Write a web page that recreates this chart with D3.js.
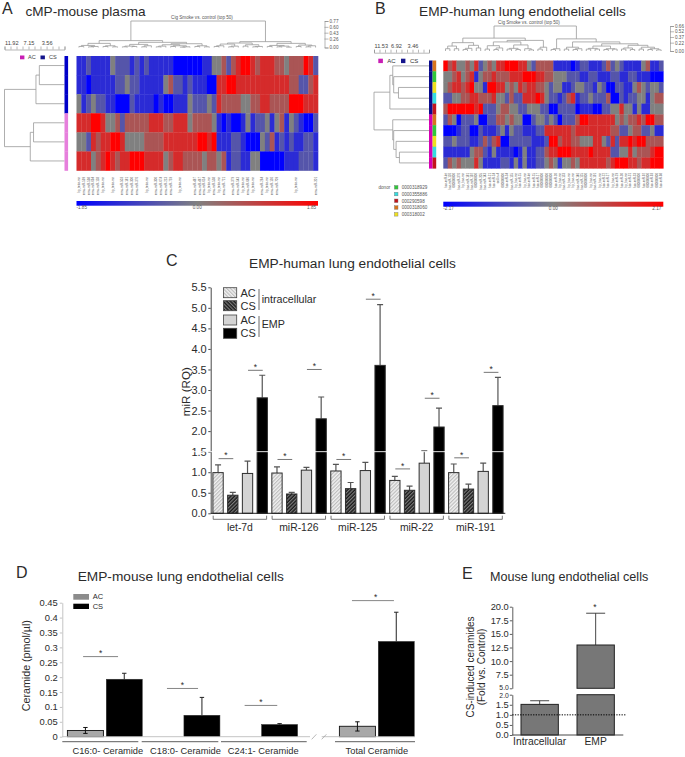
<!DOCTYPE html>
<html>
<head>
<meta charset="utf-8">
<script src="https://cdn.jsdelivr.net/npm/d3@7"></script>
<style>
  body { margin: 0; background: #fff; }
  svg { display: block; font-family: "Liberation Sans", Arial, sans-serif; }
  .soft { filter: blur(0.5px); }
</style>
</head>
<body>
<svg id="fig" width="685" height="757"></svg>
<script>
// ---- panel A heatmap, levels -3 (full blue) .. 3 (full red)
const heatRowsA = [
  [-2,-2,-1,-2,-2,-2,-2,0,-1,-1,-1,-2,-1,-2,-1,-2,-2,-2,-2,-2,-3,-3,-3,-3,-3,-3,-2,-2,0,0,1,-1,1,2,3,3,2,1,2,2,2,1,1,0,1,1,1,3,2,-1],
  [-2,-2,-3,-2,-2,-2,-2,-2,-1,-1,0,-1,-1,-2,-2,-2,-2,-2,0,1,-1,-1,-2,-1,-2,-2,-2,-3,-3,2,2,3,3,2,2,2,2,2,2,2,2,2,2,2,1,1,-1,-1,1,2],
  [0,-2,-1,0,-1,-1,-2,-2,-3,-3,-3,-1,-2,-2,-2,-2,-3,-2,-3,-3,-2,-2,-2,0,-1,-1,-1,0,-1,2,1,1,1,1,0,0,1,1,2,2,1,1,1,1,3,3,3,2,2,2],
  [2,2,2,3,3,2,0,0,1,-1,1,1,1,1,1,2,2,2,1,1,2,2,2,0,1,1,1,1,0,-2,-3,-2,-3,-3,-2,0,-2,-1,-1,0,-2,0,1,-2,0,-1,-2,-3,-3,-1],
  [0,0,-1,2,1,2,2,3,3,2,0,0,0,0,1,1,1,1,2,2,2,2,2,2,2,3,3,2,3,-2,-2,-2,-1,-1,-2,-3,-3,-3,0,-1,1,-2,-1,-2,-1,-2,-2,-1,-1,-2],
  [2,2,2,0,1,2,3,2,1,2,2,3,3,3,2,2,2,2,0,1,2,2,1,1,1,1,0,1,1,0,1,-2,-1,-1,-2,-2,0,0,-3,-3,-3,-3,-3,-2,-2,-2,-1,-1,-1,-2]
];
// ---- panel B heatmap
const heatRowsB = [
  [3,1,2,0,0,1,0,2,-1,0,1,0,2,2,3,3,3,2,2,0,-1,1,1,1,1,-2,-2,-2,-2,-3,-2,-1,-1,-2,-2,-2,-1,1,-1,0,-1,-2,-2,-2,-2,0,1,-2,-2,-1],
  [0,0,1,2,0,1,2,-2,0,1,1,2,1,1,1,2,2,2,3,3,3,2,2,1,1,0,0,0,-1,-1,-1,-2,-2,-1,-1,-2,-2,-2,-1,-1,-2,-2,-1,-1,-2,-2,-2,-3,-3,-3],
  [0,1,2,2,1,2,3,0,0,-2,3,3,2,2,0,1,0,2,1,2,2,1,1,0,-1,0,0,-2,-2,-1,0,0,-1,-1,-2,0,-1,-3,-3,-1,-1,-2,-2,0,1,0,-1,0,0,-1],
  [-1,-1,0,0,1,1,2,2,1,1,1,2,0,0,-1,1,-1,-1,2,2,2,3,2,0,-1,-1,-2,-1,1,2,-2,-1,-1,0,-1,-1,-1,1,-3,-3,-1,-2,-1,-1,0,0,-2,0,1,1],
  [1,3,3,3,3,3,3,2,3,-1,-1,-1,0,1,1,0,0,-1,-1,0,0,0,-1,-1,-3,-3,-1,-1,-1,-1,-3,-2,-2,-2,-3,-3,-1,-1,0,0,2,0,0,-2,0,-2,-2,0,0,0],
  [-1,1,0,-3,-1,-1,-1,0,-3,-3,-1,-1,1,1,0,1,0,0,-3,-3,-1,0,0,-1,0,-1,-3,-1,-1,-1,1,3,3,2,2,2,2,2,2,0,1,0,1,1,2,1,3,3,1,1],
  [-3,-3,-3,-2,-1,-1,-3,-3,-1,-2,-2,-2,-1,0,-2,0,-1,-1,-2,-2,-2,-1,-1,2,2,2,2,2,2,1,2,2,2,2,2,2,2,2,1,1,-1,-1,0,1,1,-1,-1,0,-2,-2],
  [-1,-1,0,-1,-1,-1,-2,-2,-1,1,-1,1,2,-3,-3,-1,-1,-1,-1,-1,-2,-2,-2,-1,3,3,1,2,2,1,1,0,0,0,2,2,0,-1,2,-1,2,2,3,2,3,3,1,1,1,1],
  [-2,-2,-2,-2,-2,-2,0,1,1,-1,-2,0,-2,-2,-2,-2,-3,-2,0,-2,-2,-1,-1,1,2,2,3,3,3,2,2,2,2,3,2,2,2,2,-1,-1,0,0,2,0,1,1,1,2,3,3],
  [-1,1,0,1,0,0,0,2,0,-2,-2,-2,-2,-1,-1,-2,0,-2,0,-2,-2,-1,-1,0,1,0,-2,0,0,1,0,2,2,2,2,2,2,1,2,3,3,3,2,2,1,2,2,3,3,3]
];
const heatLevels = [-3, 0, 3];
const heatColors = ["#0000ff", "#808080", "#ff0000"];

// dendrograms: [height, child, child], 0 is a leaf
const topTreeA = [0.77,
  [0.2,
    [0.12, [0.06, [0.03,0,0], [0.03,[0.02,0,0],0]], [0.05, [0.03,0,0], [0.02,0,0]]],
    [0.15,
      [0.09, [0.04,[0.02,0,0],[0.03,0,0]], [0.05,[0.02,0,0],0]],
      [0.11,
        [0.08, [0.04,[0.02,0,0],0], [0.05,[0.03,0,0],[0.02,[0.01,0,0],0]]],
        [0.05, [0.03,0,0], [0.02,0,0]]]]],
  [0.17,
    [0.13,
      [0.1, [0.05,[0.03,0,0],0], [0.04,[0.02,0,0],0]],
      [0.08, [0.04,0,0], [0.03,[0.02,0,0],0]]],
    [0.12,
      [0.06, [0.03,0,0], [0.04,[0.02,0,0],[0.01,0,0]]],
      [0.07, [0.03,0,0], [0.05,[0.02,0,0],0]]]]];
const topTreeB = [0.66,
  [0.34,
    [0.22, [0.13,[0.06,0,0],[0.06,0,0]], [0.15,[0.07,[0.04,0,0],0],[0.08,0,0]]],
    [0.28,
      [0.24, [0.14,[0.05,0,0],[0.08,[0.04,0,0],0]], [0.16,[0.07,[0.05,0,0],[0.04,0,0]],[0.06,0,[0.03,0,0]]]],
      [0.1, [0.05,0,0], 0]]],
  [0.32,
    [0.06, [0.04,0,0], 0],
    [0.24,
      [0.1, [0.05,0,0], [0.06,[0.04,0,0],0]],
      [0.19,
        [0.13, [0.07,[0.05,0,0],[0.05,0,0]], [0.06,[0.04,0,0],[0.05,0,0]]],
        [0.15, [0.08,[0.05,0,0],[0.04,0,0]], [0.1,[0.05,0,0],[0.06,[0.04,0,0],[0.03,0,0]]]]]]]];
const leftTreeA = [11.92, [5.67, [5.0,0,0], 0], [6.8, [6.15,0,0], 0]];
const leftTreeB = [11.53,
  [8.2, [7.6, 0, [7.4, 0, [6.4,0,0]]], 0],
  [7.6, 0, [7.4, 0, [6.9, 0, [6.2,0,0]]]]];

const treeTicksA = [0, 1.19, 2.38, 3.56, 4.77, 5.96, 7.15, 8.34, 9.53, 10.73, 11.92];
const treeLabelsA = [3.56, 7.15, 11.92];
const treeTicksB = [0, 1.15, 2.31, 3.46, 4.61, 5.77, 6.92, 8.07, 9.22, 10.38, 11.53];
const treeLabelsB = [3.46, 6.92, 11.53];
const scaleTicksA = [0, 0.26, 0.43, 0.6, 0.77];
const scaleTicksB = [0, 0.22, 0.37, 0.52, 0.66];

const geneColsA = [0,1,2,3,4,5,7,9,10,11,12,14,16,17,18,19,21,24,25,26,27,28,29,30,32,33,34,35,36,38,39,40,41,45,49];
const geneNamesA = ["hp_tetra-mir","mmu-miR-599","mmu-miR-598","mmu-miR-694","mmu-miR-128","hp_tetra-mir","hp_tetra-mir","mmu-miR-503","mmu-miR-181","mmu-miR-300","mmu-miR-376","hp_tetra-mir","mmu-miR-300","mmu-miR-674","mmu-miR-213","mmu-miR-759","hp_tetra-mir","mmu-miR-487","mmu-miR-467","mmu-miR-614","hp_tetra-mir","mmu-miR-538","hp_tetra-mir","mmu-miR-721","mmu-miR-379","mmu-miR-543","hp_tetra-mir","mmu-miR-686","hp_tetra-mir","mmu-miR-264","hp_tetra-mir","mmu-miR-136","mmu-miR-709","hp_tetra-mir","mmu-miR-201"];
const geneNamesB = ["hsa-miR-let","hsa-miR-126","000000000","hsa-miR-376","hp_hsa-mir","hsa-miR-181","hsa-miR-192","000000000","hsa-miR-205","hsa-miR-143","hsa-miR-21","hsa-miR-24","cel-lin-4","000000000","hsa-miR-34","hsa-miR-155","hp_hsa-mir","hsa-miR-15","hp_hsa-mir","hsa-miR-let","hsa-miR-15","hsa-miR-17","000000000","000000000","000000000","hsa-miR-20","hp_hsa-mir","hsa-miR-133","hp_hsa-mir","hp_hsa-mir","hsa-miR-146","hsa-miR-125","000000000","hp_hsa-mir","hsa-miR-191","hp_hsa-mir","hsa-miR-22","hsa-miR-27","hp_hsa-mir","hsa-miR-29","hsa-miR-30","hp_hsa-mir","hsa-miR-31","hsa-miR-33","000000000","hsa-miR-92","000000000","hsa-miR-93","000000000","hsa-miR-98"];

const donorIds = ["0000318929", "0000355886", "000290598", "0000318060", "000318002"];
const donorColors = ["#2fc83a", "#35dde0", "#c2141c", "#d8741c", "#efe01e"];
const donorRowsB = [3, 0, 4, 1, 2, 3, 0, 4, 1, 2];

// ---- panel C
const mirNames = ["let-7d", "miR-126", "miR-125", "miR-22", "miR-191"];
const seriesC = ["intraAC", "intraCS", "empAC", "empCS"];
const intraAC = [0.99, 0.98, 1.03, 0.80, 0.99];
const intraCS = [0.44, 0.47, 0.60, 0.56, 0.59];
const empAC = [0.97, 1.05, 1.04, 1.22, 1.02];
const empCS = [2.81, 2.30, 3.60, 2.10, 2.62];
const intraACTop = [1.18, 1.13, 1.19, 0.90, 1.20];
const intraCSTop = [0.51, 0.51, 0.75, 0.66, 0.71];
const empACTop = [1.27, 1.12, 1.24, 1.52, 1.22];
const empCSTop = [3.36, 2.83, 5.08, 2.56, 3.31];
const sigIntraC = [1.33, 1.31, 1.31, 1.08, 1.35];
const sigEmpC = [3.48, 3.50, 5.21, 2.80, 3.43];
const ticksC = [0, 0.5, 1, 1.5, 2, 2.5, 3, 3.5, 4, 4.5, 5, 5.5];

// ---- panel D
const ceramideCats = ["C16:0- Ceramide", "C18:0- Ceramide", "C24:1- Ceramide"];
const ceramideTotal = ["Total Ceramide"];
const acD = [0.021, null, null];
const csD = [0.193, 0.072, 0.041];
const acDHigh = [0.031, null, null];
const acDLow = [0.011, null, null];
const csDTop = [0.213, 0.132, 0.044];
const sigD = [0.269, 0.162, 0.105];
const acTotal = [0.035], acTotalHigh = [0.05], acTotalLow = [0.019];
const csTotal = [0.32], csTotalTop = [0.418], sigTotal = [0.457];
const ticksD = [0, 0.05, 0.1, 0.15, 0.2, 0.25, 0.3, 0.35, 0.4, 0.45];

// ---- panel E
const foldCats = ["Intracellular", "EMP"];
const foldValues = [1.52, 12.96];
const foldTops = [1.7, 18.8];
const ticksELow = [0, 0.5, 1, 1.5, 2];
const ticksEHigh = [5, 7.5, 10, 12.5, 15, 17.5, 20];

const svg = d3.select("#fig");
const defs = svg.append("defs");
const TXT = "#2b2b2b";

function hatch(id, bg, fg, angle) {
  const p = defs.append("pattern").attr("id", id)
    .attr("patternUnits", "userSpaceOnUse").attr("width", 2.6).attr("height", 2.6)
    .attr("patternTransform", "rotate(" + angle + ")");
  p.append("rect").attr("width", 2.6).attr("height", 2.6).attr("fill", bg);
  p.append("rect").attr("width", 1.2).attr("height", 2.6).attr("fill", fg);
}
hatch("acBar", "#f2f2f2", "#bdbdbd", 45);
hatch("csBar", "#1a1a1a", "#7a7a7a", 45);
hatch("acLeg", "#f2f2f2", "#bdbdbd", -45);
hatch("csLeg", "#1a1a1a", "#7a7a7a", -45);

function label(x, y, s, size, opts) {
  opts = opts || {};
  return svg.append("text").attr("x", x).attr("y", y).text(s)
    .attr("font-size", size).attr("fill", opts.fill || TXT)
    .attr("text-anchor", opts.anchor || "start");
}

// walks a nested tree and draws the elbows, returns leaf position and height
function drawTree(g, node, st, pos, hgt, horizontal) {
  if (node === 0) {
    st.leaf += 1;
    return { p: pos(st.leaf - 1), h: 0 };
  }
  const a = drawTree(g, node[1], st, pos, hgt, horizontal);
  const b = drawTree(g, node[2], st, pos, hgt, horizontal);
  const d = horizontal
    ? "M" + hgt(a.h) + "," + a.p + "H" + hgt(node[0]) + "V" + b.p + "H" + hgt(b.h)
    : "M" + a.p + "," + hgt(a.h) + "V" + hgt(node[0]) + "H" + b.p + "V" + hgt(b.h);
  g.append("path").attr("d", d).attr("fill", "none").attr("stroke", "#9a9a9a").attr("stroke-width", 0.8);
  return { p: (a.p + b.p) / 2, h: node[0] };
}

function heatPanel(c) {
  const color = d3.scaleLinear().domain(heatLevels).range(heatColors);
  const cols = d3.scaleBand().domain(d3.range(c.rows[0].length)).range(c.xRange);
  const rows = d3.scaleBand().domain(d3.range(c.rows.length)).range(c.yRange);

  const heat = svg.append("g").attr("class", "soft");
  c.rows.forEach((row, i) => {
    heat.selectAll(null).data(row).enter().append("rect")
      .attr("x", (d, j) => cols(j)).attr("y", rows(i))
      .attr("width", cols.bandwidth() + 0.3).attr("height", rows.bandwidth() + 0.3)
      .attr("fill", d => color(d));
  });

  // top dendrogram and its height axis
  const hTop = d3.scaleLinear().domain([0, c.topMax]).range(c.topY);
  const g1 = svg.append("g");
  drawTree(g1, c.topTree, { leaf: 0 }, j => cols(j) + cols.bandwidth() / 2, hTop, false);
  const ax = svg.append("g").attr("transform", "translate(" + c.scaleX + ",0)")
    .call(d3.axisRight(hTop).tickValues(c.scaleTicks).tickSize(4).tickPadding(1).tickFormat(d3.format(".2f")));
  ax.selectAll("path,line").attr("stroke", "#888").attr("stroke-width", 0.6);
  ax.selectAll("text").attr("font-size", 4.6).attr("font-family", "inherit").attr("fill", "#555");

  // left dendrogram and its axis
  const hLeft = d3.scaleLinear().domain([0, c.leftMax]).range(c.leftX);
  const g2 = svg.append("g");
  drawTree(g2, c.leftTree, { leaf: 0 }, i => rows(i) + rows.bandwidth() / 2, hLeft, true);
  const al = svg.append("g").attr("transform", "translate(0," + c.leftAxisY + ")")
    .call(d3.axisTop(hLeft).tickValues(c.treeTicks).tickSize(3).tickPadding(1.5)
      .tickFormat(d => c.treeLabels.includes(d) ? d : ""));
  al.selectAll("path,line").attr("stroke", "#888").attr("stroke-width", 0.6);
  al.selectAll("text").attr("font-size", 5.6).attr("font-family", "inherit").attr("fill", "#444")
    .attr("text-anchor", d => d === c.leftMax ? "start" : "middle");

  svg.append("text").attr("x", c.capX).attr("y", c.capY).text("Cig Smoke vs. control (top 50)")
    .attr("font-size", 4.6).attr("fill", "#555").attr("text-anchor", "middle");

  // gene labels under the columns
  const genes = svg.append("g");
  c.geneCols.forEach((col, k) => {
    const gx = cols(col) + cols.bandwidth() / 2 + 1;
    genes.append("text").attr("transform", "translate(" + gx + "," + c.geneY + ") rotate(-90)")
      .attr("text-anchor", "end").attr("font-size", 2.9).attr("fill", "#555").text(c.geneNames[k]);
  });

  // colour bar
  const gid = "bar" + c.id;
  const lg = defs.append("linearGradient").attr("id", gid);
  heatLevels.forEach((l, i) => lg.append("stop").attr("offset", (i * 50) + "%").attr("stop-color", heatColors[i]));
  svg.append("rect").attr("x", c.xRange[0]).attr("y", c.barY)
    .attr("width", c.xRange[1] - c.xRange[0]).attr("height", c.barH).attr("fill", "url(#" + gid + ")");
  label(c.xRange[0], c.barY + c.barH + 3.6, "-" + c.barMax, 4.6, { fill: "#555" });
  label((c.xRange[0] + c.xRange[1]) / 2, c.barY + c.barH + 3.6, "0.00", 4.6, { fill: "#555", anchor: "middle" });
  label(c.xRange[1] - 2, c.barY + c.barH + 3.6, c.barMax, 4.6, { fill: "#555", anchor: "end" });

  return rows;
}

// ---------- panel A
const rowsA = heatPanel({
  id: "A", rows: heatRowsA, xRange: [76.5, 318], yRange: [56, 170.5],
  topTree: topTreeA, topMax: 0.77, topY: [47.5, 21], scaleX: 324.5, scaleTicks: scaleTicksA,
  leftTree: leftTreeA, leftMax: 11.92, leftX: [64.5, 4.5], leftAxisY: 49.5,
  treeTicks: treeTicksA, treeLabels: treeLabelsA, capX: 202, capY: 18.5,
  geneCols: geneColsA, geneNames: geneNamesA, geneY: 177,
  barY: 201, barH: 4.7, barMax: "1.85"
});
svg.append("g").selectAll("rect").data(heatRowsA).enter().append("rect")
  .attr("x", 64.5).attr("y", (d, i) => rowsA(i)).attr("width", 3.6).attr("height", rowsA.bandwidth() + 0.3)
  .attr("fill", (d, i) => i < 3 ? "#0000c8" : "#e67fdc");

svg.append("rect").attr("x", 20).attr("y", 55.5).attr("width", 4.4).attr("height", 3.8).attr("fill", "#c81eb4");
label(28, 59, "AC", 5.6, { fill: "#444" });
svg.append("rect").attr("x", 40.5).attr("y", 55.5).attr("width", 4.4).attr("height", 3.8).attr("fill", "#14148c");
label(49, 59, "CS", 5.6, { fill: "#444" });
label(2, 14, "A", 16);
label(25.5, 15.5, "cMP-mouse plasma", 13.6);

// ---------- panel B
const rowsB = heatPanel({
  id: "B", rows: heatRowsB, xRange: [443.3, 663.3], yRange: [60.5, 168.3],
  topTree: topTreeB, topMax: 0.66, topY: [51, 26], scaleX: 670, scaleTicks: scaleTicksB,
  leftTree: leftTreeB, leftMax: 11.53, leftX: [429, 374], leftAxisY: 52.7,
  treeTicks: treeTicksB, treeLabels: treeLabelsB, capX: 529, capY: 24,
  geneCols: d3.range(50), geneNames: geneNamesB, geneY: 173,
  barY: 201.7, barH: 5, barMax: "2.17"
});
const sideB = svg.append("g");
donorRowsB.forEach((dn, i) => {
  sideB.append("rect").attr("x", 429).attr("y", rowsB(i)).attr("width", 3.6).attr("height", rowsB.bandwidth() + 0.3)
    .attr("fill", i < 5 ? "#0a0a8c" : "#d400b4");
  sideB.append("rect").attr("x", 432.6).attr("y", rowsB(i)).attr("width", 3.6).attr("height", rowsB.bandwidth() + 0.3)
    .attr("fill", donorColors[dn]);
});
svg.append("rect").attr("x", 378.3).attr("y", 58.7).attr("width", 4.6).attr("height", 4.4).attr("fill", "#c81eb4");
label(387.3, 63.2, "AC", 6, { fill: "#333" });
svg.append("rect").attr("x", 401).attr("y", 58.7).attr("width", 4.4).attr("height", 4.4).attr("fill", "#14148c");
label(410, 63.2, "CS", 6, { fill: "#333" });

label(378.5, 189, "donor", 4.6, { fill: "#555" });
const donorY = d3.scalePoint().domain(donorIds).range([187.3, 214.3]);
donorIds.forEach((id, i) => {
  svg.append("rect").attr("x", 394.4).attr("y", donorY(id) - 1.8).attr("width", 3.6).attr("height", 3.6)
    .attr("fill", donorColors[i]).attr("stroke", "#777").attr("stroke-width", 0.4);
  label(401.7, donorY(id) + 1.7, id, 4.6, { fill: "#555" });
});
label(375, 14, "B", 16);
label(419, 15.5, "EMP-human lung endothelial cells", 13.7);

// ---------- panel C
const yC = d3.scaleLinear().domain([0, 5.5]).range([513.3, 287.3]);
const x0C = d3.scaleBand().domain(mirNames).range([210.7, 505.3]);
const x1C = d3.scaleBand().domain(seriesC).range([0, x0C.bandwidth()]).paddingInner(0.3).paddingOuter(0.15);
const fillC = { intraAC: "url(#acBar)", intraCS: "url(#csBar)", empAC: "#d4d4d4", empCS: "#000" };
const valuesC = { intraAC: intraAC, intraCS: intraCS, empAC: empAC, empCS: empCS };
const topsC = { intraAC: intraACTop, intraCS: intraCSTop, empAC: empACTop, empCS: empCSTop };

label(166, 266, "C", 16);
label(249, 268, "EMP-human lung endothelial cells", 13.7);

const chartC = svg.append("g");
seriesC.forEach(s => {
  const mid = m => x0C(m) + x1C(s) + x1C.bandwidth() / 2;
  chartC.selectAll(null).data(mirNames).enter().append("path")
    .attr("d", (m, i) => "M" + mid(m) + "," + yC(valuesC[s][i]) + "V" + yC(topsC[s][i])
      + "M" + (mid(m) - 3) + "," + yC(topsC[s][i]) + "H" + (mid(m) + 3))
    .attr("fill", "none").attr("stroke", "#555").attr("stroke-width", 1.2);
  chartC.selectAll(null).data(mirNames).enter().append("rect")
    .attr("x", m => x0C(m) + x1C(s)).attr("width", x1C.bandwidth())
    .attr("y", (m, i) => yC(valuesC[s][i])).attr("height", (m, i) => yC(0) - yC(valuesC[s][i]))
    .attr("fill", fillC[s]).attr("stroke", "#2e2e2e").attr("stroke-width", 1);
});

mirNames.forEach((m, i) => {
  const cx = s => x0C(m) + x1C(s) + x1C.bandwidth() / 2;
  [["intraAC", "intraCS", sigIntraC[i]], ["empAC", "empCS", sigEmpC[i]]].forEach(p => {
    chartC.append("line").attr("x1", cx(p[0]) + 0.5).attr("x2", cx(p[1]) + 0.5)
      .attr("y1", yC(p[2])).attr("y2", yC(p[2])).attr("stroke", "#666").attr("stroke-width", 0.9);
    chartC.append("text").attr("x", (cx(p[0]) + cx(p[1])) / 2 + 0.5).attr("y", yC(p[2]) - 0.2)
      .attr("text-anchor", "middle").attr("font-size", 8.5).attr("fill", TXT).text("*");
  });
  // group bracket and label
  const b0 = x0C(m) + 2.5, b1 = x0C(m) + x0C.bandwidth() - 3;
  chartC.append("path").attr("d", "M" + b0 + ",515.7V519.3H" + b1 + "V515.7")
    .attr("fill", "none").attr("stroke", "#555").attr("stroke-width", 0.8);
  chartC.append("text").attr("x", (b0 + b1) / 2).attr("y", 531).attr("text-anchor", "middle")
    .attr("font-size", 10.4).attr("fill", TXT).text(m);
});

const axC = svg.append("g").attr("transform", "translate(210.7,0)")
  .call(d3.axisLeft(yC).tickValues(ticksC).tickSize(2.4).tickSizeOuter(0).tickPadding(1.6).tickFormat(d3.format(".1f")));
axC.selectAll("path,line").attr("stroke", "#333").attr("stroke-width", 0.9);
axC.selectAll("text").attr("font-size", 11).attr("font-family", "inherit").attr("fill", TXT);
svg.append("line").attr("x1", 210.7).attr("x2", 505.3).attr("y1", yC(0)).attr("y2", yC(0))
  .attr("stroke", "#222").attr("stroke-width", 1);
// axis break at 1.5
svg.append("line").attr("x1", 190).attr("x2", 505.3).attr("y1", yC(1.5)).attr("y2", yC(1.5))
  .attr("stroke", "#fff").attr("stroke-width", 0.9);

svg.append("text").attr("transform", "translate(189.5,391.7) rotate(-90)")
  .attr("text-anchor", "middle").attr("font-size", 11.6).attr("fill", TXT).text("miR (RQ)");

const legendC = [["AC", "url(#acLeg)", 287.7], ["CS", "url(#csLeg)", 300.7], ["AC", "#d4d4d4", 315], ["CS", "#000", 328.3]];
legendC.forEach(l => {
  svg.append("rect").attr("x", 223.5).attr("y", l[2]).attr("width", 13.2).attr("height", 10)
    .attr("fill", l[1]).attr("stroke", "#444").attr("stroke-width", 0.8);
  label(240.5, l[2] + 9, l[0], 11);
});
svg.append("line").attr("x1", 259).attr("x2", 259).attr("y1", 289).attr("y2", 310).attr("stroke", "#444").attr("stroke-width", 0.8);
svg.append("line").attr("x1", 259).attr("x2", 259).attr("y1", 316).attr("y2", 337).attr("stroke", "#444").attr("stroke-width", 0.8);
label(261.7, 303.3, "intracellular", 10.7);
label(261.7, 327.7, "EMP", 10.7);

// ---------- panel D
const yD = d3.scaleLinear().domain([0, 0.45]).range([736.7, 602.7]);
const x0D = d3.scaleBand().domain(ceramideCats).range([66, 299]);
const x0T = d3.scaleBand().domain(ceramideTotal).range([338, 415.67]);
const x1D = d3.scaleBand().domain(["AC", "CS"]).range([0, x0D.bandwidth()]).paddingInner(0.073).paddingOuter(0.036);

label(16, 578, "D", 16);
label(77.7, 581, "EMP-mouse lung endothelial cells", 13.7);

function ceramideBars(scale, cats, ac, acHi, acLo, cs, csTop) {
  const g = svg.append("g");
  cats.forEach((c, i) => {
    const xa = scale(c) + x1D("AC"), xc = scale(c) + x1D("CS"), w = x1D.bandwidth();
    const ma = xa + w / 2, mc = xc + w / 2;
    g.append("path").attr("d", "M" + mc + "," + yD(cs[i]) + "V" + yD(csTop[i]) + "M" + (mc - 2.2) + "," + yD(csTop[i]) + "H" + (mc + 2.2))
      .attr("stroke", "#222").attr("fill", "none").attr("stroke-width", 1);
    g.append("rect").attr("x", xc).attr("width", w).attr("y", yD(cs[i])).attr("height", yD(0) - yD(cs[i]))
      .attr("fill", "#000").attr("stroke", "#333").attr("stroke-width", 0.5);
    if (ac[i] !== null) {
      g.append("rect").attr("x", xa).attr("width", w).attr("y", yD(ac[i])).attr("height", yD(0) - yD(ac[i]))
        .attr("fill", "#a8a8a8").attr("stroke", "#111").attr("stroke-width", 0.9);
      g.append("path").attr("d", "M" + ma + "," + yD(acLo[i]) + "V" + yD(acHi[i])
        + "M" + (ma - 2.2) + "," + yD(acHi[i]) + "H" + (ma + 2.2) + "M" + (ma - 2.2) + "," + yD(acLo[i]) + "H" + (ma + 2.2))
        .attr("stroke", "#111").attr("fill", "none").attr("stroke-width", 1);
    }
  });
}
ceramideBars(x0D, ceramideCats, acD, acDHigh, acDLow, csD, csDTop);
ceramideBars(x0T, ceramideTotal, acTotal, acTotalHigh, acTotalLow, csTotal, csTotalTop);

const axD = svg.append("g").attr("transform", "translate(62.3,0)")
  .call(d3.axisLeft(yD).tickValues(ticksD).tickSize(2.5).tickSizeOuter(0).tickPadding(2)
    .tickFormat(d => d === 0 ? "0" : String(d)));
axD.selectAll("path,line").attr("stroke", "#bdbdbd").attr("stroke-width", 0.9);
axD.selectAll("text").attr("font-size", 9.4).attr("font-family", "inherit").attr("fill", TXT);

svg.selectAll(null).data([[62.3, 310], [321.7, 415]]).enter().append("line")
  .attr("x1", d => d[0]).attr("x2", d => d[1]).attr("y1", yD(0)).attr("y2", yD(0))
  .attr("stroke", "#bdbdbd").attr("stroke-width", 0.9);
svg.selectAll(null).data([311.7, 321.7]).enter().append("line")
  .attr("x1", d => d).attr("x2", d => d + 4.7).attr("y1", 739.3).attr("y2", 734.3)
  .attr("stroke", "#999").attr("stroke-width", 0.7);
// lines under the groups
svg.selectAll(null).data([[62.3, 138.3], [141.7, 218.3], [221, 306.7], [335, 415]]).enter().append("line")
  .attr("x1", d => d[0]).attr("x2", d => d[1]).attr("y1", 741.7).attr("y2", 741.7)
  .attr("stroke", "#333").attr("stroke-width", 0.8);
ceramideCats.forEach(c => {
  label(x0D(c) + x0D.bandwidth() / 2 + 3, 754.3, c, 9.3, { anchor: "middle" });
});
label(x0T(ceramideTotal[0]) + x0T.bandwidth() / 2, 754.3, ceramideTotal[0], 9.3, { anchor: "middle" });

const sigSpan = [[0.22, 0.67], [0.30, 0.70], [0.30, 0.72]];
ceramideCats.forEach((c, i) => {
  const a = x0D(c) + sigSpan[i][0] * x0D.bandwidth(), b = x0D(c) + sigSpan[i][1] * x0D.bandwidth();
  svg.append("line").attr("x1", a).attr("x2", b).attr("y1", yD(sigD[i])).attr("y2", yD(sigD[i]))
    .attr("stroke", "#777").attr("stroke-width", 0.9);
  label((a + b) / 2, yD(sigD[i]) - 0.3, "*", 8.5, { anchor: "middle" });
});
const ta = x0T(ceramideTotal[0]) + 0.18 * x0T.bandwidth(), tb = x0T(ceramideTotal[0]) + 0.72 * x0T.bandwidth();
svg.append("line").attr("x1", ta).attr("x2", tb).attr("y1", yD(sigTotal[0])).attr("y2", yD(sigTotal[0]))
  .attr("stroke", "#777").attr("stroke-width", 0.9);
label(375.7, yD(sigTotal[0]) - 1, "*", 8.5, { anchor: "middle" });

svg.append("text").attr("transform", "translate(30,665.7) rotate(-90)")
  .attr("text-anchor", "middle").attr("font-size", 10.7).attr("fill", TXT).text("Ceramide (pmol/\u00b5l)");

svg.append("rect").attr("x", 73.3).attr("y", 594).attr("width", 15.7).attr("height", 5.7).attr("fill", "#8c8c8c");
svg.append("rect").attr("x", 73.3).attr("y", 603.7).attr("width", 15.7).attr("height", 5.3).attr("fill", "#000");
label(92.7, 598.7, "AC", 7.5);
label(92.7, 609.3, "CS", 7.5);

// ---------- panel E
const yELow = d3.scaleLinear().domain([0, 2]).range([735, 694.7]);
const yEHigh = d3.scaleLinear().domain([5, 20]).range([688.3, 606.7]);
const xE = d3.scaleBand().domain(foldCats).range([511.67, 623.67]).paddingInner(1 / 3).paddingOuter(1 / 6);

label(462, 579, "E", 16);
label(490, 581, "Mouse lung endothelial cells", 12.6);

const chartE = svg.append("g");
foldCats.forEach((c, i) => {
  const mid = xE(c) + xE.bandwidth() / 2;
  const top = foldTops[i] > 2 ? yEHigh(foldTops[i]) : yELow(foldTops[i]);
  const val = foldValues[i] > 2 ? yEHigh(foldValues[i]) : yELow(foldValues[i]);
  chartE.append("path").attr("d", "M" + mid + "," + val + "V" + top + "M" + (mid - 9.5) + "," + top + "H" + (mid + 9.5))
    .attr("stroke", "#333").attr("fill", "none").attr("stroke-width", 0.9);
  if (foldValues[i] > 2) {
    chartE.append("rect").attr("x", xE(c)).attr("width", xE.bandwidth()).attr("y", val).attr("height", yEHigh(5) - val)
      .attr("fill", "#777").attr("stroke", "#222").attr("stroke-width", 1);
    chartE.append("rect").attr("x", xE(c)).attr("width", xE.bandwidth()).attr("y", yELow(2)).attr("height", yELow(0) - yELow(2))
      .attr("fill", "#777").attr("stroke", "#222").attr("stroke-width", 1);
  } else {
    chartE.append("rect").attr("x", xE(c)).attr("width", xE.bandwidth()).attr("y", val).attr("height", yELow(0) - val)
      .attr("fill", "#777").attr("stroke", "#222").attr("stroke-width", 1);
  }
  label(mid, 745, c, 10.3, { anchor: "middle" });
});

[[yELow, ticksELow], [yEHigh, ticksEHigh]].forEach(p => {
  const a = svg.append("g").attr("transform", "translate(512.3,0)")
    .call(d3.axisLeft(p[0]).tickValues(p[1]).tickSize(2.5).tickSizeOuter(0).tickPadding(1).tickFormat(d3.format(".1f")));
  a.selectAll("path,line").attr("stroke", "#333").attr("stroke-width", 0.8);
  a.selectAll("text").attr("font-size", 9.3).attr("font-family", "inherit").attr("fill", TXT);
  // the 5.0 and 2.0 labels sit too close together at the break, shrink and spread them
  a.selectAll("text").filter(d => d === 5 || d === 2)
    .attr("font-size", 6.8)
    .attr("transform", d => "translate(0," + (d === 5 ? -1 : 1) + ")");
});
svg.append("line").attr("x1", 512.3).attr("x2", 623.3).attr("y1", yELow(0)).attr("y2", yELow(0)).attr("stroke", "#333").attr("stroke-width", 0.9);
svg.append("line").attr("x1", 512.3).attr("x2", 626.7).attr("y1", yELow(1)).attr("y2", yELow(1))
  .attr("stroke", "#000").attr("stroke-width", 1).attr("stroke-dasharray", "1.3,1.3");
label(595, 610, "*", 8.5, { anchor: "middle" });

svg.append("text").attr("transform", "translate(474,667) rotate(-90)")
  .attr("text-anchor", "middle").attr("font-size", 10).attr("fill", TXT).text("CS-induced ceramides");
svg.append("text").attr("transform", "translate(485,667) rotate(-90)")
  .attr("text-anchor", "middle").attr("font-size", 10).attr("fill", TXT).text("(Fold vs. Control)");
</script>
</body>
</html>
